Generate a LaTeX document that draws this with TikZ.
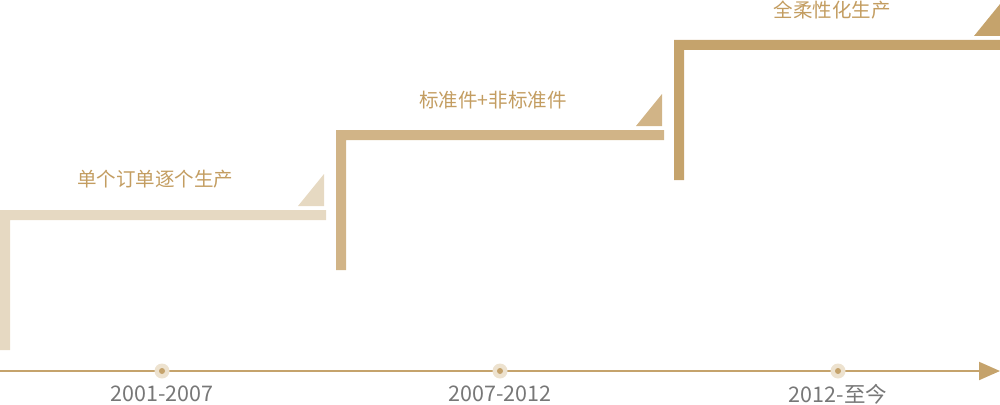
\documentclass[tikz,border=0pt]{standalone}
\usepackage{fontspec}
\setmainfont{Noto Sans CJK SC}
\definecolor{c1}{HTML}{E6D9C2}
\definecolor{c2}{HTML}{D1B487}
\definecolor{c3}{HTML}{C5A36C}
\definecolor{tc}{HTML}{C39D61}
\definecolor{gc}{HTML}{777777}
\definecolor{halo}{HTML}{EDE2CF}
\usetikzlibrary{arrows.meta}
\begin{document}
\begin{tikzpicture}[x=1pt,y=-1pt,
  steplabel/.style={text=tc,font=\fontsize{19.5}{22}\selectfont,inner sep=0pt},
  yearlabel/.style={text=gc,font=\fontsize{21.5}{24}\selectfont,inner sep=0pt},
  dotmark/.style={fill=c3,circle,minimum size=6pt,inner sep=0pt}]
\useasboundingbox (0,0) rectangle (1000,404);
% step 1
\fill[c1] (0,350) -- (0,210) -- (326,210) -- (326,220) -- (10,220) -- (10,350) -- cycle;
\fill[c1] (298,206) -- (324,206) -- (324,174) -- cycle;
% step 2
\fill[c2] (336,270) -- (336,130) -- (664,130) -- (664,140) -- (346,140) -- (346,270) -- cycle;
\fill[c2] (636,126) -- (662,126) -- (662,94) -- cycle;
% step 3
\fill[c3] (674,180) -- (674,40) -- (1000,40) -- (1000,50) -- (684,50) -- (684,180) -- cycle;
\fill[c3] (974,36) -- (1000,36) -- (1000,4) -- cycle;
% labels
\node[steplabel] (s1) at (155,179.5) {单个订单逐个生产};
\node[steplabel] (s2) at (493,100) {标准件+非标准件};
\node[steplabel] (s3) at (832,10) {全柔性化生产};
% timeline
\coordinate (t0) at (0,371);
\coordinate (t1) at (1000,371);
\draw[c3,line width=2pt,-{Triangle[length=21pt,width=18pt]}] (t0) -- (t1);
\foreach \x/\n in {162/a,500/b,838/c}{
  \fill[halo] (\x,371) circle (7.5);
  \node[dotmark] (d\n) at (\x,371) {};
}
\node[yearlabel] (y1) at (162,394) {2001-2007};
\node[yearlabel] (y2) at (500,394) {2007-2012};
\node[yearlabel] (y3) at (838,394) {2012-至今};
\end{tikzpicture}
\end{document}
